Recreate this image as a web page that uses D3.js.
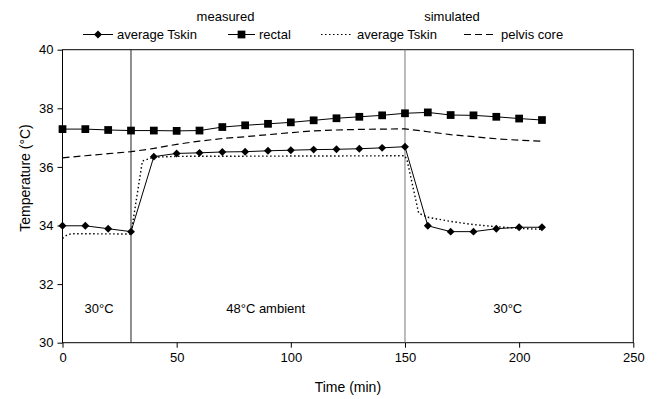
<!DOCTYPE html>
<html>
<head>
<meta charset="utf-8">
<script src="https://cdn.jsdelivr.net/npm/d3@7"></script>
<style>
  body { margin: 0; background: #fff; }
  svg { display: block; font-family: "Liberation Sans", Arial, sans-serif; }
</style>
</head>
<body>
<div id="chart"></div>
<script>
var svgWidth = 659;
var svgHeight = 399;

var margin = { top: 49.7, right: 25.7, bottom: 56.3, left: 62.5 };
var plotWidth = svgWidth - margin.left - margin.right;
var plotHeight = svgHeight - margin.top - margin.bottom;

// measured every 10 min
var measuredTimes = [0, 10, 20, 30, 40, 50, 60, 70, 80, 90, 100, 110, 120, 130, 140, 150, 160, 170, 180, 190, 200, 210];
var measuredSkin = [33.99, 33.99, 33.89, 33.79, 36.35, 36.46, 36.48, 36.51, 36.52, 36.55, 36.57, 36.59, 36.6, 36.62, 36.65, 36.69, 33.99, 33.79, 33.79, 33.89, 33.94, 33.94];
var measuredRectal = [37.29, 37.29, 37.26, 37.24, 37.24, 37.23, 37.24, 37.36, 37.42, 37.47, 37.52, 37.59, 37.66, 37.71, 37.76, 37.83, 37.86, 37.77, 37.76, 37.71, 37.65, 37.6];

// simulated curves
var simSkinTimes = [0, 2, 4, 30, 35, 40, 50, 150, 151, 156, 160, 170, 180, 190, 200, 210];
var simSkin = [33.56, 33.68, 33.72, 33.71, 36.2, 36.33, 36.36, 36.38, 36.2, 34.42, 34.28, 34.14, 34.03, 33.96, 33.9, 33.87];
var simCoreTimes = [0, 10, 20, 30, 40, 50, 60, 70, 80, 90, 100, 110, 120, 130, 140, 150, 160, 170, 180, 190, 200, 210];
var simCore = [36.31, 36.38, 36.45, 36.52, 36.63, 36.77, 36.88, 36.97, 37.03, 37.1, 37.17, 37.23, 37.26, 37.28, 37.29, 37.3, 37.2, 37.1, 37.03, 36.96, 36.91, 36.88];

var phaseBounds = [30, 150];
var phaseLabels = [
  { t: 16, text: "30°C" },
  { t: 89, text: "48°C ambient" },
  { t: 195, text: "30°C" }
];
var xTicks = [0, 50, 100, 150, 200, 250];
var yTicks = [30, 32, 34, 36, 38, 40];

var svg = d3.select("#chart")
  .append("svg")
  .attr("width", svgWidth)
  .attr("height", svgHeight);

var plot = svg.append("g")
  .attr("transform", `translate(${margin.left}, ${margin.top})`);

var x = d3.scaleLinear().domain([0, 250]).range([0, plotWidth]);
var y = d3.scaleLinear().domain([30, 40]).range([plotHeight, 0]);

// axes
var bottomAxis = d3.axisBottom(x).tickValues(xTicks).tickSize(5).tickSizeOuter(0).tickPadding(5);
var leftAxis = d3.axisLeft(y).tickValues(yTicks).tickSize(5).tickSizeOuter(0).tickPadding(4);

var xg = plot.append("g")
  .attr("transform", `translate(0, ${plotHeight})`)
  .call(bottomAxis);
var yg = plot.append("g").call(leftAxis);

[xg, yg].forEach(function(g) {
  g.selectAll("text").style("font-size", "13px").attr("fill", "#000");
  g.selectAll("line, path").attr("stroke", "#000");
  g.select(".domain").remove();
});

// frame
plot.append("rect")
  .attr("width", plotWidth)
  .attr("height", plotHeight)
  .attr("fill", "none")
  .attr("stroke", "#000")
  .attr("stroke-width", 1);

// phase boundaries
plot.selectAll(".phase")
  .data(phaseBounds)
  .enter()
  .append("line")
  .attr("x1", d => x(d))
  .attr("x2", d => x(d))
  .attr("y1", 0)
  .attr("y2", plotHeight)
  .attr("stroke", (d, i) => i === 0 ? "#222" : "#777")
  .attr("stroke-width", 1);

plot.selectAll(".phaseLabel")
  .data(phaseLabels)
  .enter()
  .append("text")
  .attr("x", d => x(d.t))
  .attr("y", y(31.03))
  .attr("text-anchor", "middle")
  .style("font-size", "13px")
  .text(d => d.text);

var line = d3.line()
  .x(d => x(d[0]))
  .y(d => y(d[1]));

var zip = function(a, b) { return a.map((t, i) => [t, b[i]]); };

// simulated
plot.append("path")
  .datum(zip(simCoreTimes, simCore))
  .attr("d", line)
  .attr("fill", "none")
  .attr("stroke", "#000")
  .attr("stroke-width", 1.2)
  .attr("stroke-dasharray", "7,4");

plot.append("path")
  .datum(zip(simSkinTimes, simSkin))
  .attr("d", line)
  .attr("fill", "none")
  .attr("stroke", "#000")
  .attr("stroke-width", 1.4)
  .attr("stroke-dasharray", "1.5,2.5");

// measured
var skinData = zip(measuredTimes, measuredSkin);
var rectalData = zip(measuredTimes, measuredRectal);

plot.append("path")
  .datum(rectalData)
  .attr("d", line)
  .attr("fill", "none")
  .attr("stroke", "#000")
  .attr("stroke-width", 1);

plot.append("path")
  .datum(skinData)
  .attr("d", line)
  .attr("fill", "none")
  .attr("stroke", "#000")
  .attr("stroke-width", 1);

var diamond = d3.symbol().type(d3.symbolDiamond2).size(40);
var square = d3.symbol().type(d3.symbolSquare).size(60);

plot.selectAll(".skinPt")
  .data(skinData)
  .enter()
  .append("path")
  .attr("d", diamond)
  .attr("transform", d => `translate(${x(d[0])}, ${y(d[1])})`)
  .attr("fill", "#000");

plot.selectAll(".rectPt")
  .data(rectalData)
  .enter()
  .append("path")
  .attr("d", square)
  .attr("transform", d => `translate(${x(d[0])}, ${y(d[1])})`)
  .attr("fill", "#000");

// axis titles
svg.append("text")
  .attr("x", margin.left + plotWidth / 2)
  .attr("y", 392)
  .attr("text-anchor", "middle")
  .style("font-size", "14px")
  .text("Time (min)");

svg.append("text")
  .attr("transform", "translate(30, 178) rotate(-90)")
  .attr("text-anchor", "middle")
  .style("font-size", "14px")
  .text("Temperature (°C)");

// legend
svg.append("text").attr("x", 225.5).attr("y", 21).attr("text-anchor", "middle")
  .style("font-size", "13px").text("measured");
svg.append("text").attr("x", 452).attr("y", 21).attr("text-anchor", "middle")
  .style("font-size", "13px").text("simulated");

var legendY = 34.5;
var legendItems = [
  { x1: 83, x2: 113, label: "average Tskin", dash: null, sym: diamond },
  { x1: 228, x2: 255, label: "rectal", dash: null, sym: square },
  { x1: 321, x2: 353, label: "average Tskin", dash: "1.5,2.5", sym: null },
  { x1: 464, x2: 497, label: "pelvis core", dash: "7,4", sym: null }
];

var leg = svg.append("g");
legendItems.forEach(function(it) {
  leg.append("line")
    .attr("x1", it.x1).attr("x2", it.x2)
    .attr("y1", legendY).attr("y2", legendY)
    .attr("stroke", "#000")
    .attr("stroke-width", it.dash ? 1.2 : 1)
    .attr("stroke-dasharray", it.dash);
  if (it.sym) {
    leg.append("path")
      .attr("d", it.sym)
      .attr("transform", `translate(${(it.x1 + it.x2) / 2}, ${legendY})`)
      .attr("fill", "#000");
  }
  leg.append("text")
    .attr("x", it.x2 + 4)
    .attr("y", legendY + 4.5)
    .style("font-size", "13px")
    .text(it.label);
});
</script>
</body>
</html>
